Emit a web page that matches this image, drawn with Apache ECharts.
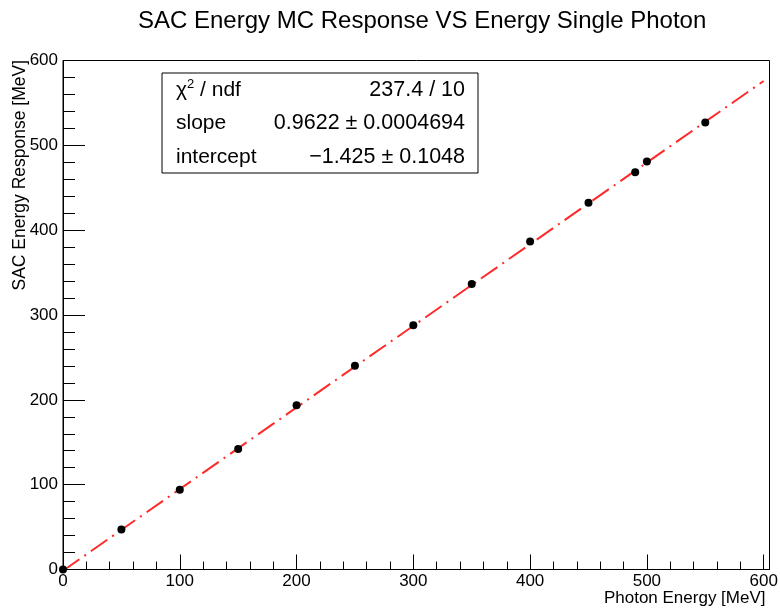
<!DOCTYPE html>
<html>
<head>
<meta charset="utf-8">
<script src="https://cdn.jsdelivr.net/npm/echarts@6/dist/echarts.min.js"></script>
<style>html,body{margin:0;padding:0;background:#fff}#c{width:780px;height:610px}</style>
</head>
<body>
<div id="c"></div>
<script>
var photonEnergy = [0, 50, 100, 150, 200, 250, 300, 350, 400, 450, 490, 500, 550];
var sacResponse  = [0, 47.2, 94, 142, 193.5, 240.2, 287.8, 336.5, 386.5, 432.3, 468.3, 481, 527];
var fitX = [0, 600];
var fitY = [-1.425, 575.9];
var xTicks = [0, 100, 200, 300, 400, 500, 600];
var statLabels = ['{a|χ}{s|2}{a| / ndf}', 'slope', 'intercept'];
var statValues = ['237.4 / 10', '0.9622 ± 0.0004694', '−1.425 ± 0.1048'];
var yTitle = 'SAC Energy Response [MeV]';

var FONT = 'Liberation Sans, Arial, Helvetica, sans-serif';
var chart = echarts.init(document.getElementById('c'), null, {renderer: 'canvas'});

var points = photonEnergy.map(function (x, i) { return [x, sacResponse[i]]; });
var fitLine = fitX.map(function (x, i) { return [x, fitY[i]]; });

var statTexts = [];
var rowY = [90, 123, 157];
statLabels.forEach(function (t, i) {
  statTexts.push({
    type: 'text', x: 176, y: rowY[i], z: 11,
    style: {
      text: t, fontFamily: FONT, fontSize: 21, fill: '#000', verticalAlign: 'middle', align: 'left',
      rich: { a: {fontSize: 21, fontFamily: FONT}, s: {fontSize: 13, fontFamily: FONT, verticalAlign: 'top', padding: [0, 0, 11, 0]} }
    }
  });
});
statValues.forEach(function (t, i) {
  statTexts.push({
    type: 'text', x: 465, y: rowY[i], z: 11,
    style: { text: t, fontFamily: FONT, fontSize: 21.5, fill: '#000', align: 'right', verticalAlign: 'middle' }
  });
});

chart.setOption({
  animation: false,
  backgroundColor: '#fff',
  title: {
    text: 'SAC Energy MC Response VS Energy Single Photon',
    left: 133, top: 4,
    textStyle: { fontFamily: FONT, fontSize: 24, fontWeight: 'normal', color: '#000' }
  },
  grid: { left: 63, top: 60.5, right: 10.5, bottom: 40.5, show: true, borderColor: '#000', borderWidth: 1, backgroundColor: 'transparent', containLabel: false, outerBoundsMode: 'none' },
  xAxis: {
    type: 'value', min: 0, max: 605, interval: 100,
    name: 'Photon Energy [MeV]', nameLocation: 'end', nameGap: 0,
    nameTextStyle: { fontFamily: FONT, fontSize: 17, color: '#000', align: 'right', verticalAlign: 'top', padding: [20, 4, 0, 0] },
    axisLine: { show: true, onZero: false, lineStyle: { color: '#000', width: 1 } },
    axisTick: { show: true, inside: true, length: 15, lineStyle: { color: '#000' }, customValues: xTicks },
    minorTick: { show: true, splitNumber: 5, length: 8, lineStyle: { color: '#000' } },
    axisLabel: { fontFamily: FONT, fontSize: 17, color: '#000', margin: 3, customValues: xTicks, showMaxLabel: true },
    splitLine: { show: false }
  },
  yAxis: {
    type: 'value', min: 0, max: 600, interval: 100,
    axisLine: { show: true, onZero: false, lineStyle: { color: '#000', width: 1 } },
    axisTick: { show: true, inside: true, length: 22, lineStyle: { color: '#000' } },
    minorTick: { show: true, splitNumber: 5, length: 12, lineStyle: { color: '#000' } },
    axisLabel: { fontFamily: FONT, fontSize: 17, color: '#000', margin: 5 },
    splitLine: { show: false }
  },
  series: [
    {
      type: 'line', data: fitLine, showSymbol: false, symbol: 'none', clip: true, z: 2,
      lineStyle: { color: '#ff2a2a', width: 2, type: [20, 6, 2, 6] }
    },
    {
      type: 'scatter', data: points, symbol: 'circle', symbolSize: 8, z: 3, clip: false,
      itemStyle: { color: '#000', opacity: 1 }
    }
  ],
  graphic: [
    { type: 'text', x: 20, y: 60, rotation: Math.PI / 2,
      style: { text: yTitle, fontFamily: FONT, fontSize: 17.5, fill: '#000', align: 'right', verticalAlign: 'middle' } },
    { type: 'rect', shape: { x: 162, y: 73, width: 316, height: 100 }, style: { fill: '#fff', stroke: '#000', lineWidth: 1 }, z: 10 }
  ].concat(statTexts)
});
</script>
</body>
</html>
